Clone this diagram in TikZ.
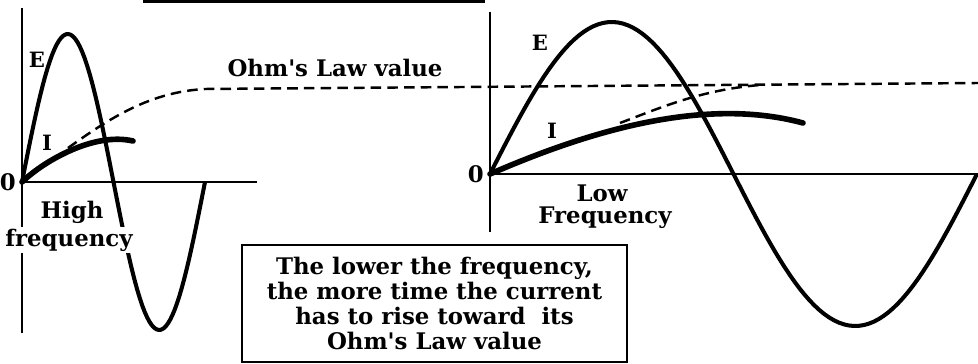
\documentclass[tikz,border=0pt]{standalone}
\usepackage{fontspec}
\setmainfont{DejaVu Serif}[Ligatures=TeXOff]
\usetikzlibrary{positioning,calc}

\begin{document}
\begin{tikzpicture}[x=0.02cm, y=-0.02cm,
  axis/.style={line width=0.9pt},
  wave/.style={line width=2.3pt, line join=round},
  current/.style={line width=3.2pt, line cap=round},
  ohm/.style={line width=1.4pt, dash pattern=on 6pt off 3.5pt},
  lbl/.style={font=\bfseries\fontsize{13}{14.2}\selectfont},
  tag/.style={font=\bfseries\fontsize{12}{12}\selectfont}]
  \useasboundingbox (0,0) rectangle (978,364);
  % cut-off rule at the top
  \fill (143,0) rectangle (485,3.5);

  % high frequency graph
  \coordinate (o1) at (22,182);
  \draw[axis] (22,8) -- (22,333);
  \draw[axis] (o1) -- (257,182);
  \draw[wave] plot[domain=0:360, samples=80] ({22+\x/360*183},{182-148*sin(\x)});
  \coordinate (d1) at (68,148);
  \draw[current] (o1) .. controls (45,160) and (95,132) .. (133,141);
  \node[lbl, left=0pt of o1] (z1) {0};
  \node[tag] (e1) at (37,60) {E};
  \node[tag] (i1) at (47,143) {I};
  \node[lbl, fill=white, inner sep=1pt] (hi) at (72,212) {High};
  \node[lbl, fill=white, inner sep=1pt] (fq) at (69,240) {frequency};

  % low frequency graph
  \coordinate (o2) at (490,174);
  \draw[axis] (490,12) -- (490,232);
  \draw[axis] (o2) -- (978,174);
  \draw[wave] plot[domain=0:360, samples=100] ({490+\x/360*487},{174-152*sin(\x)});
  \coordinate (d2) at (620,123);
  \draw[current] (o2) .. controls (580,135) and (700,95) .. (803,123);
  \node[lbl, left=0pt of o2] (z2) {0};
  \node[tag] (e2) at (540,43) {E};
  \node[tag] (i2) at (552,131) {I};
  \node[lbl, inner sep=1pt] (lo) at (602,193) {Low};
  \node[lbl, inner sep=1pt] (fr) at (605,218) {Frequency};

  % Ohm's Law value
  \coordinate (rend) at (978,83);
  \draw[ohm] (d1) .. controls (110,118) and (150,92) .. (205,89) -- (rend);
  \draw[ohm] (d2) .. controls (660,108) and (700,90) .. (760,85);
  \node[lbl] (ohmval) at (335,68) {Ohm's Law value};

  \node[draw, line width=1.2pt, align=center, inner sep=0pt,
    minimum width=7.7cm, minimum height=2.34cm, lbl] (note) at (434.5,303.5)
    {The lower the frequency,\\the more time the current\\has to rise toward\ \ its\\Ohm's Law value};
\end{tikzpicture}
\end{document}
